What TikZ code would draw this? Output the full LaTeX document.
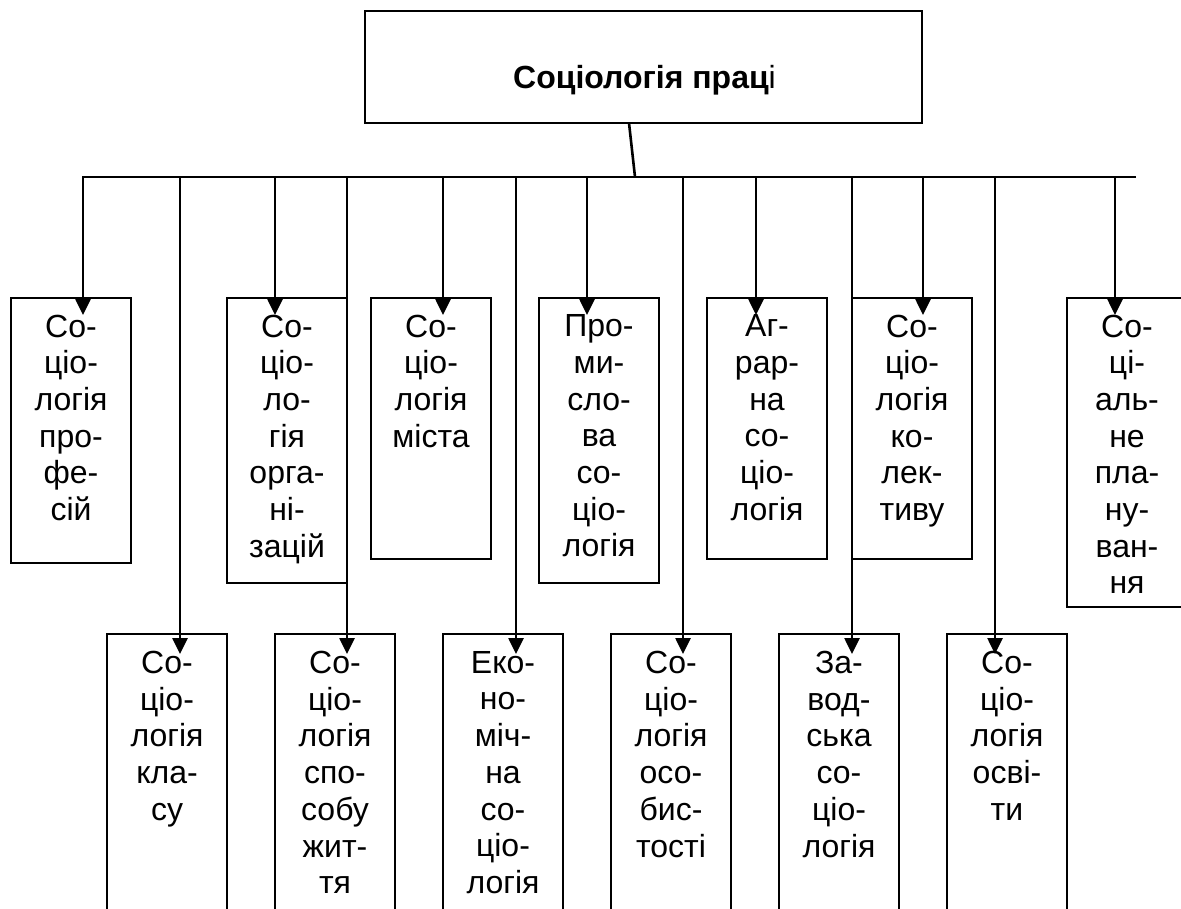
\documentclass[tikz,border=0pt]{standalone}
\usepackage{fontspec}
\setmainfont{Liberation Sans}
\usetikzlibrary{arrows.meta,calc}
\begin{document}
\begin{tikzpicture}[x=1pt,y=-1pt,
  box/.style={draw, line width=1.8pt, anchor=north west, inner sep=0pt, outer sep=0pt, minimum width=120pt},
  rootbox/.style={draw, line width=2.7pt, anchor=north west, inner sep=0pt, outer sep=0pt, minimum width=557pt, minimum height=112pt},
  lbl/.style={anchor=north, align=center, inner sep=0pt, font=\fontsize{32}{36.7}\selectfont},
  title/.style={anchor=base, inner sep=0pt, font=\fontsize{32}{36}\selectfont},
  conn/.style={line width=2.6pt},
  arr/.style={conn, -{Triangle[width=15pt,length=16pt]}}
  ]
\clip (0,0) rectangle (1181,908);
\fill[white] (0,0) rectangle (1181,908);
% root
\node[rootbox] (root) at (365,11) {};
\node[title] (roottxt) at ($(root.center)+(1,21)$) {\bfseries Соціологія прац\mdseries і};
% bus
\coordinate (hub) at (635,177);
\coordinate (busL) at (83,177);
\coordinate (busR) at (1136,177);
\coordinate (a2) at (275,177);
\coordinate (a3) at (443,177);
\coordinate (a4) at (587,177);
\coordinate (a5) at (756,177);
\coordinate (a6) at (923,177);
\coordinate (a7) at (1115,177);
\coordinate (b1) at (180,177);
\coordinate (b2) at (347,177);
\coordinate (b3) at (516,177);
\coordinate (b4) at (683,177);
\coordinate (b5) at (852,177);
\coordinate (b6) at (995,177);
% top row boxes
\node[box, minimum height=265pt] (t1) at (11,298) {};
\node[box, minimum height=285pt] (t2) at (227,298) {};
\node[box, minimum height=261pt] (t3) at (371,298) {};
\node[box, minimum height=285pt] (t4) at (539,298) {};
\node[box, minimum height=261pt] (t5) at (707,298) {};
\node[box, minimum height=261pt] (t6) at (852,298) {};
\node[box, minimum height=309pt] (t7) at (1067,298) {};
% bottom row boxes
\node[box, minimum height=300pt] (u1) at (107,634) {};
\node[box, minimum height=300pt] (u2) at (275,634) {};
\node[box, minimum height=300pt] (u3) at (443,634) {};
\node[box, minimum height=300pt] (u4) at (611,634) {};
\node[box, minimum height=300pt] (u5) at (779,634) {};
\node[box, minimum height=300pt] (u6) at (947,634) {};
% labels
\node[lbl] (t1l) at ($(t1.north)+(0,16.5)$) {Со-\\ціо-\\логія\\про-\\фе-\\сій};
\node[lbl] (t2l) at ($(t2.north)+(0,16.5)$) {Со-\\ціо-\\ло-\\гія\\орга-\\ні-\\зацій};
\node[lbl] (t3l) at ($(t3.north)+(0,16.5)$) {Со-\\ціо-\\логія\\міста};
\node[lbl] (t4l) at ($(t4.north)+(0,16.5)$) {Про-\\ми-\\сло-\\ва\\со-\\ціо-\\логія};
\node[lbl] (t5l) at ($(t5.north)+(0,16.5)$) {Аг-\\рар-\\на\\со-\\ціо-\\логія};
\node[lbl] (t6l) at ($(t6.north)+(0,16.5)$) {Со-\\ціо-\\логія\\ко-\\лек-\\тиву};
\node[lbl] (t7l) at ($(t7.north)+(0,16.5)$) {Со-\\ці-\\аль-\\не\\пла-\\ну-\\ван-\\ня};
\node[lbl] (u1l) at ($(u1.north)+(0,17)$) {Со-\\ціо-\\логія\\кла-\\су};
\node[lbl] (u2l) at ($(u2.north)+(0,17)$) {Со-\\ціо-\\логія\\спо-\\собу\\жит-\\тя};
\node[lbl] (u3l) at ($(u3.north)+(0,17)$) {Еко-\\но-\\міч-\\на\\со-\\ціо-\\логія};
\node[lbl] (u4l) at ($(u4.north)+(0,17)$) {Со-\\ціо-\\логія\\осо-\\бис-\\тості};
\node[lbl] (u5l) at ($(u5.north)+(0,17)$) {За-\\вод-\\ська\\со-\\ціо-\\логія};
\node[lbl] (u6l) at ($(u6.north)+(0,17)$) {Со-\\ціо-\\логія\\осві-\\ти};
% connectors
\draw[conn] ($(root.south west)+(264,0)$) -- (hub);
\draw[arr] (busR) -- (busL) -- ($(busL |- t1.north)+(0,17)$);
\draw[arr] (a2) -- ($(a2 |- t2.north)+(0,17)$);
\draw[arr] (a3) -- ($(a3 |- t3.north)+(0,17)$);
\draw[arr] (a4) -- ($(a4 |- t4.north)+(0,17)$);
\draw[arr] (a5) -- ($(a5 |- t5.north)+(0,17)$);
\draw[arr] (a6) -- ($(a6 |- t6.north)+(0,17)$);
\draw[arr] (a7) -- ($(a7 |- t7.north)+(0,17)$);
\draw[arr] (b1) -- ($(b1 |- u1.north)+(0,20)$);
\draw[arr] (b2) -- ($(b2 |- u2.north)+(0,20)$);
\draw[arr] (b3) -- ($(b3 |- u3.north)+(0,20)$);
\draw[arr] (b4) -- ($(b4 |- u4.north)+(0,20)$);
\draw[arr] (b5) -- ($(b5 |- u5.north)+(0,20)$);
\draw[arr] (b6) -- ($(b6 |- u6.north)+(0,20)$);
\end{tikzpicture}
\end{document}
